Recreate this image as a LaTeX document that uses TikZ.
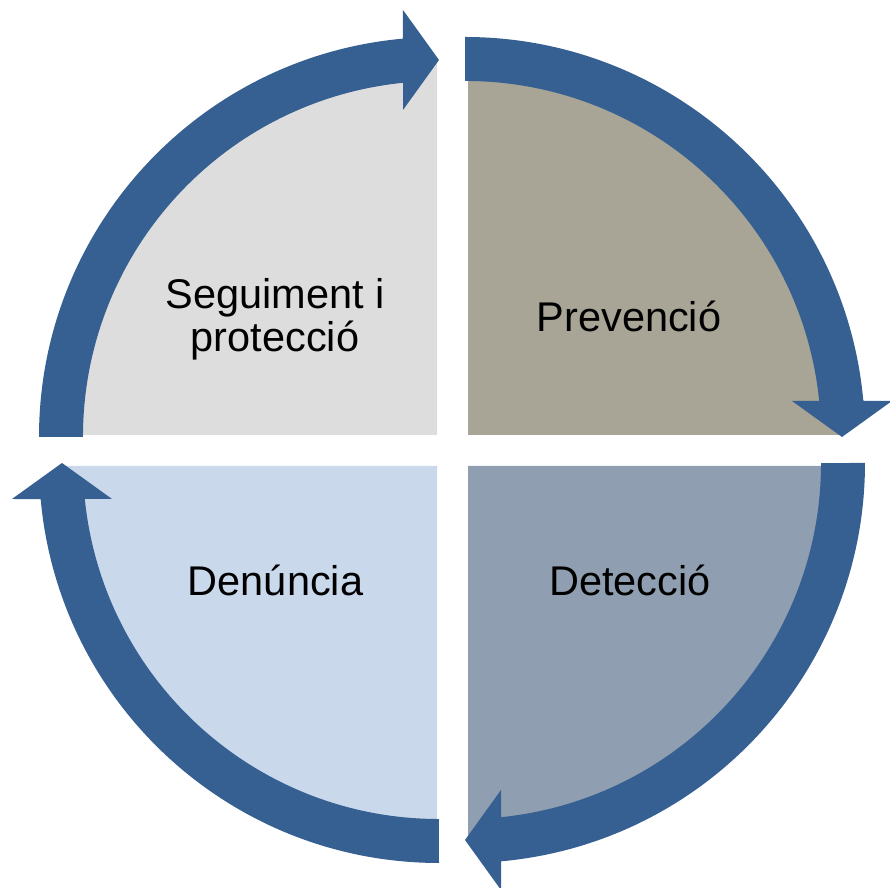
\documentclass[tikz,border=0pt]{standalone}
\usepackage{fontspec}
\setmainfont{Liberation Sans}
\definecolor{arrowc}{HTML}{366092}
\definecolor{wtl}{HTML}{DDDDDD}
\definecolor{wtr}{HTML}{A8A596}
\definecolor{wbr}{HTML}{8F9EB0}
\definecolor{wbl}{HTML}{C9D8EB}
\tikzset{
  cyclearrow/.pic={
    \fill[arrowc] (180:400) arc[start angle=180, end angle=95.2, radius=400]
      -- (-36,427) -- (0,377) -- (-36,327) -- (-36,354.2)
      arc[start angle=95.8, end angle=180, radius=356] -- cycle;
  },
  lbl/.style={font=\fontsize{11.8}{12.3}\selectfont, text=black, inner sep=0pt, align=center, anchor=base}
}
\begin{document}
\begin{tikzpicture}[x=0.01cm,y=0.01cm]
\useasboundingbox (0,0) rectangle (890,888);
% quadrants
\fill[wtl] (437,453) -- ++(-375,0) arc[start angle=180, end angle=90, radius=375] -- cycle;
\fill[wtr] (468,453) -- ++(0,375) arc[start angle=90, end angle=0, radius=375] -- cycle;
\fill[wbr] (468,422) -- ++(375,0) arc[start angle=0, end angle=-90, radius=375] -- cycle;
\fill[wbl] (437,422) -- ++(0,-375) arc[start angle=270, end angle=180, radius=375] -- cycle;
% arrows
\pic[shift={(439,451)}] {cyclearrow};
\pic[shift={(465,451)}, rotate=-90] {cyclearrow};
\pic[shift={(465,425)}, rotate=180] {cyclearrow};
\pic[shift={(439,425)}, rotate=90] {cyclearrow};
% labels
\node[lbl] (seg) at (275,536) {Seguiment i\\protecció};
\node[lbl] (prev) at (629,556.3) {Prevenció};
\node[lbl] (det) at (630,292) {Detecció};
\node[lbl] (den) at (275.5,292) {Denúncia};
\end{tikzpicture}
\end{document}
